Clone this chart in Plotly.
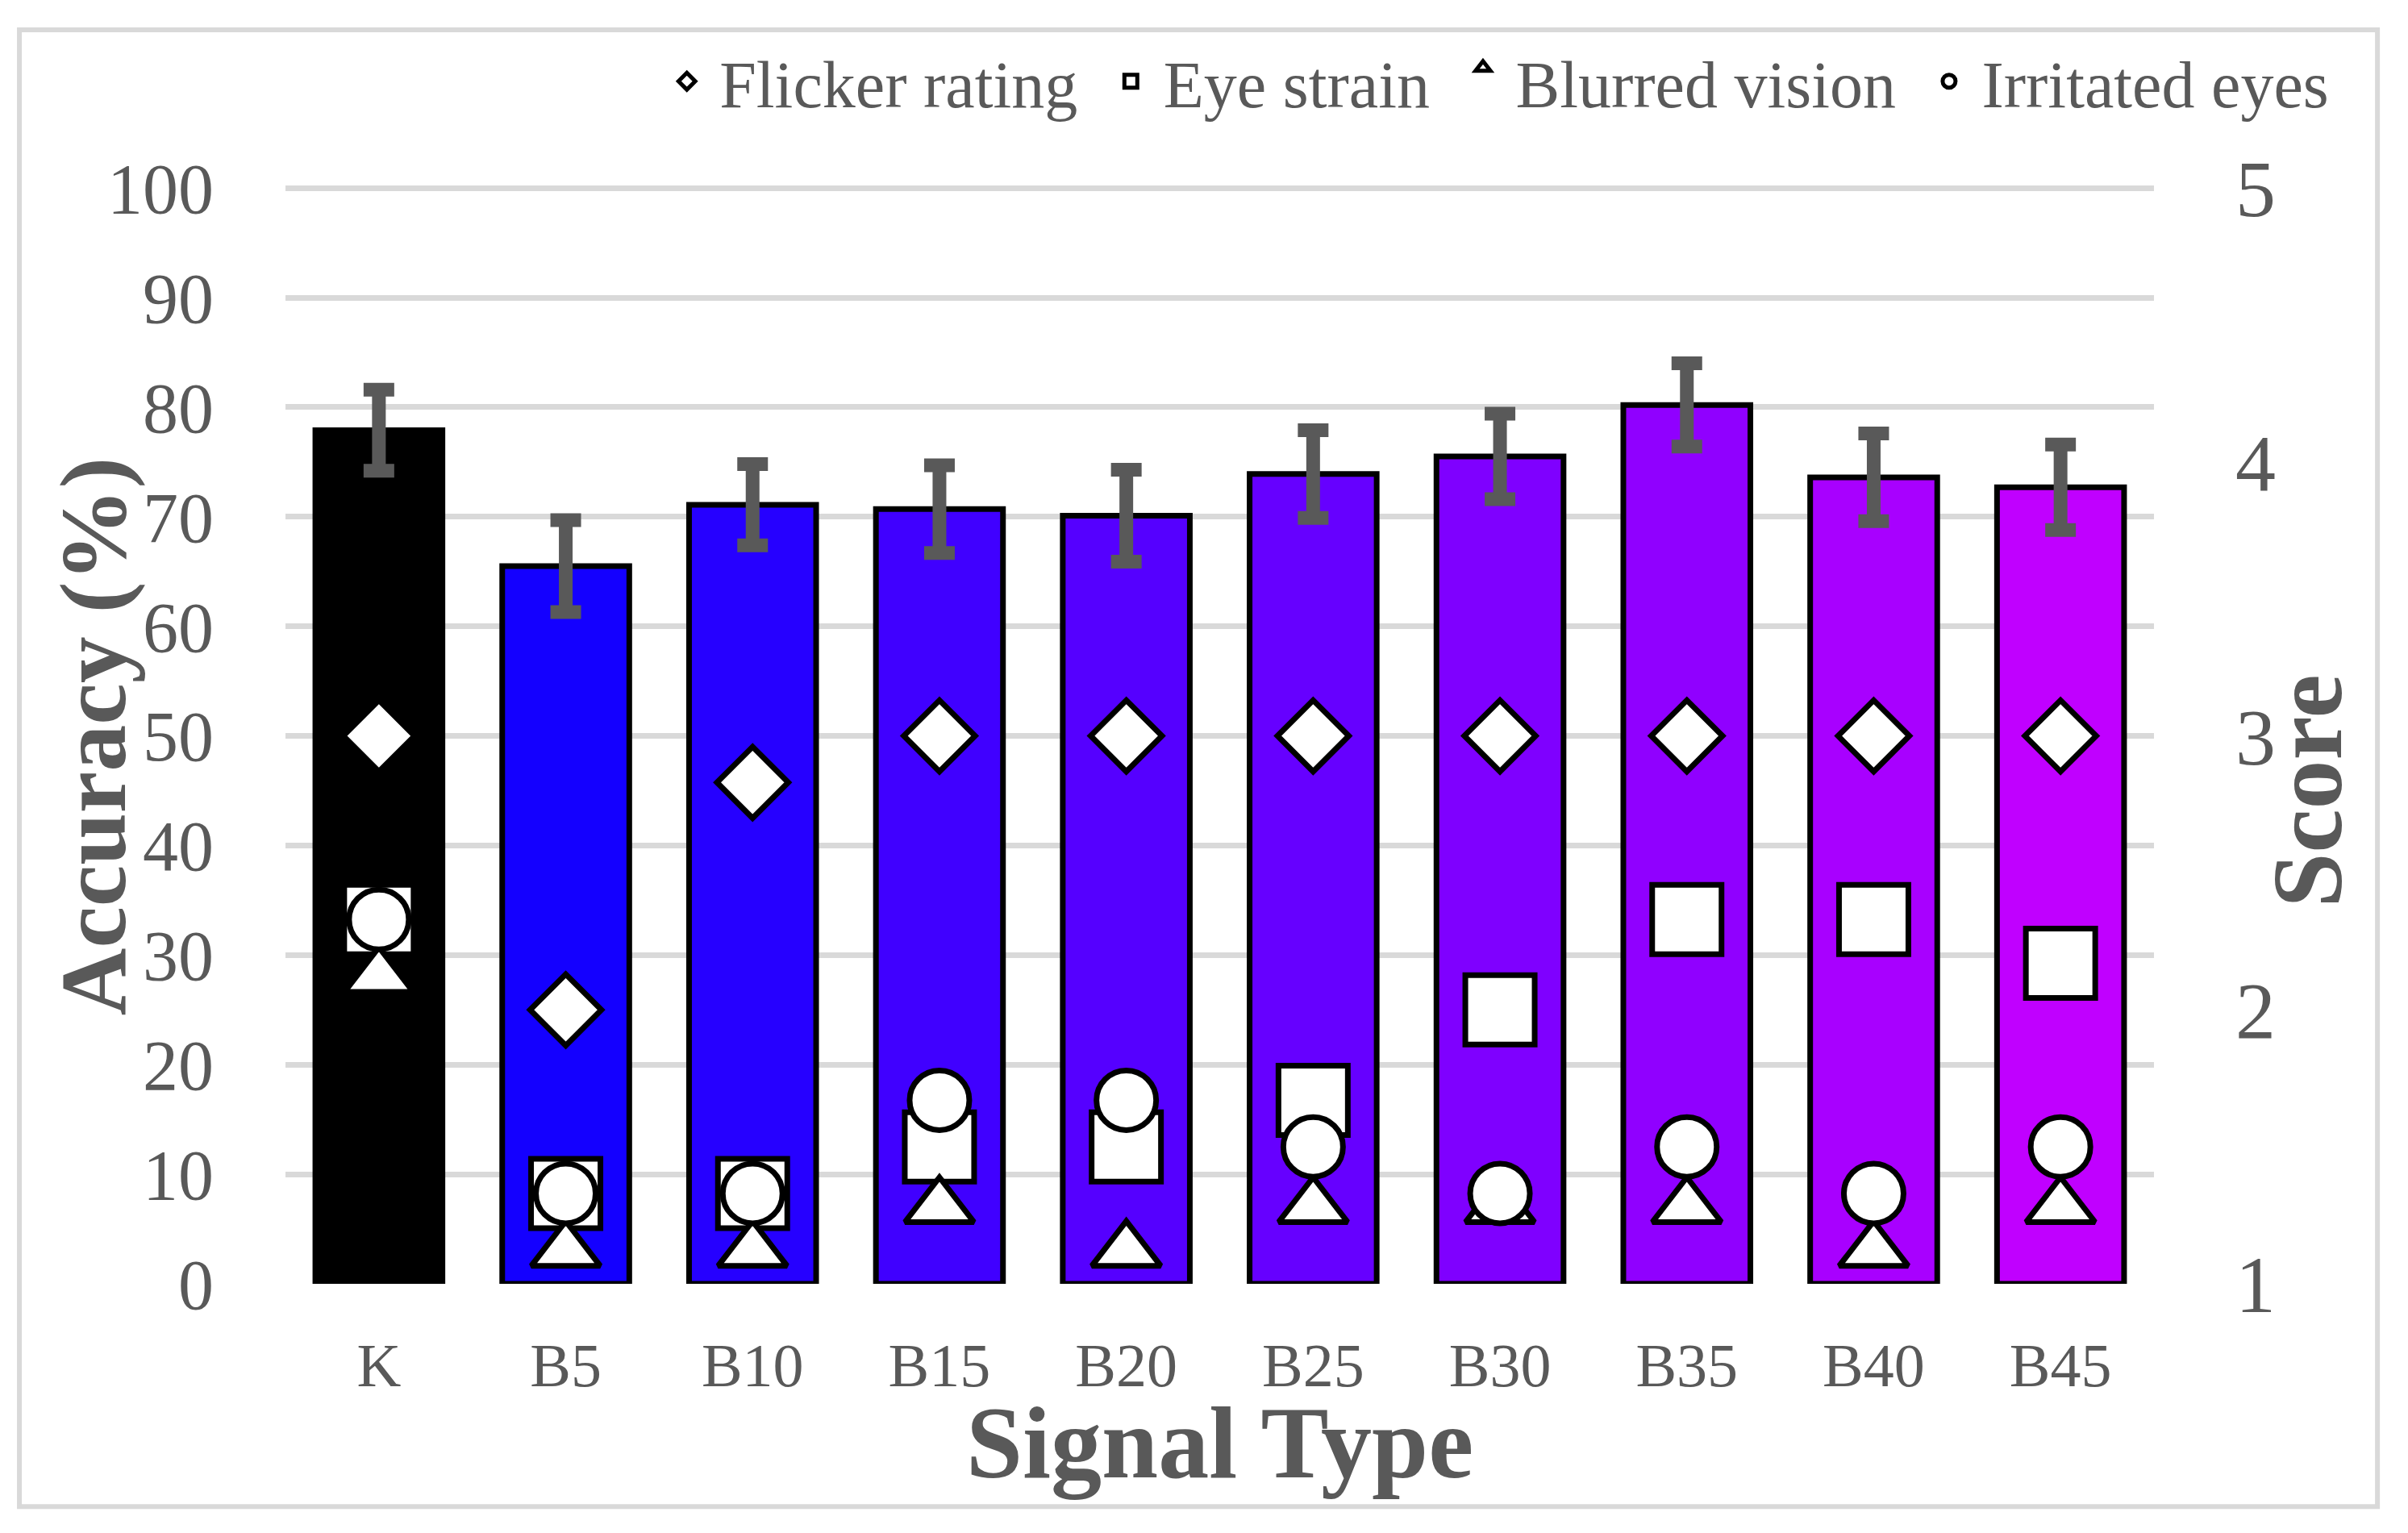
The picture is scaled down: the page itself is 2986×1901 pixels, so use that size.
import plotly.graph_objects as go

categories = ["K", "B5", "B10", "B15", "B20", "B25", "B30", "B35", "B40", "B45"]
accuracy = [77.9, 65.5, 71.1, 70.7, 70.1, 73.9, 75.5, 80.2, 73.6, 72.7]
accuracy_err = [3.7, 4.2, 3.7, 4.0, 4.2, 4.0, 3.9, 3.8, 4.0, 3.9]
bar_colors = ["#000000", "#1400FF", "#2600FF", "#4000FF", "#5500FF",
              "#6600FF", "#7F00FF", "#9000FF", "#A800FF", "#C000FF"]

flicker = [3.0, 2.0, 2.83, 3.0, 3.0, 3.0, 3.0, 3.0, 3.0, 3.0]
eye_strain = [2.33, 1.33, 1.33, 1.5, 1.5, 1.67, 2.0, 2.33, 2.33, 2.17]
blurred = [2.17, 1.17, 1.17, 1.33, 1.17, 1.33, 1.33, 1.33, 1.17, 1.33]
irritated = [2.33, 1.33, 1.33, 1.67, 1.67, 1.5, 1.33, 1.5, 1.33, 1.5]

left_ticks = list(range(0, 101, 10))
right_ticks = [1, 2, 3, 4, 5]

FONT = "Liberation Serif"
GRAY = "#595959"
GRID = "#D9D9D9"
NB = "\u00a0"

fig = go.Figure()

fig.add_trace(go.Bar(
    x=categories, y=accuracy,
    marker=dict(color=bar_colors, line=dict(color="black", width=7)),
    error_y=dict(type="data", array=accuracy_err, color=GRAY, thickness=17, width=19),
    showlegend=False, yaxis="y",
))

series = [
    ("Flicker rating", flicker, dict(symbol="diamond", size=68), NB + NB),
    ("Eye strain", eye_strain, dict(symbol="square", size=86), NB + NB),
    ("Blurred vision", blurred, dict(symbol="triangle-up", size=74, angle=0, standoff=17), NB + NB),
    ("Irritated eyes", irritated, dict(symbol="circle", size=74), ""),
]
for name, vals, mk, tail in series:
    fig.add_trace(go.Scatter(
        x=categories, y=vals, name=NB + name + tail, mode="markers", yaxis="y2",
        marker=dict(color="white", line=dict(color="black", width=7), **mk),
    ))

fig.update_layout(
    width=2986, height=1901,
    margin=dict(l=346, r=323, t=198, b=317, autoexpand=False),
    paper_bgcolor="white", plot_bgcolor="white",
    font=dict(family=FONT, color=GRAY),
    bargap=0.32,
    xaxis=dict(
        categoryorder="array", categoryarray=categories, range=[-0.5, 9.5],
        tickfont=dict(size=76, color=GRAY), ticklabelstandoff=50,
        showline=False, ticks="", showgrid=False,
    ),
    yaxis=dict(
        range=[0, 102], tickvals=left_ticks, tickfont=dict(size=88, color=GRAY),
        showgrid=True, gridcolor=GRID, gridwidth=7, zeroline=False,
        ticks="", ticklabelstandoff=88, showline=False,
    ),
    yaxis2=dict(
        range=[1, 5.08], tickvals=right_ticks, tickfont=dict(size=100, color=GRAY),
        overlaying="y", side="right", showgrid=False, zeroline=False,
        ticks="", ticklabelstandoff=100, showline=False,
    ),
    legend=dict(
        orientation="h", x=1.0957, xanchor="right", y=1.1191, yanchor="top",
        font=dict(size=82, color=GRAY, family=FONT), bgcolor="rgba(0,0,0,0)",
        itemwidth=30,
    ),
    annotations=[
        dict(text="<b>Accuracy (%)</b>", xref="paper", yref="paper",
             x=-0.1028, y=0.4902, xanchor="center", yanchor="middle",
             textangle=-90, showarrow=False, font=dict(size=116, color=GRAY, family=FONT)),
        dict(text="<b>Score</b>", xref="paper", yref="paper",
             x=1.0824, y=0.4412, xanchor="center", yanchor="middle",
             textangle=-90, showarrow=False, font=dict(size=122, color=GRAY, family=FONT)),
        dict(text="<b>Signal Type</b>", xref="paper", yref="paper",
             x=0.5, y=-0.1425, xanchor="center", yanchor="middle",
             showarrow=False, font=dict(size=126, color=GRAY, family=FONT)),
    ],
    shapes=[
        dict(type="rect", xref="paper", yref="paper",
             x0=-0.1424, x1=1.1196, y0=-0.1994, y1=1.1219,
             line=dict(color=GRID, width=6), fillcolor="rgba(0,0,0,0)", layer="below"),
    ],
)

fig.write_html("out.html")
